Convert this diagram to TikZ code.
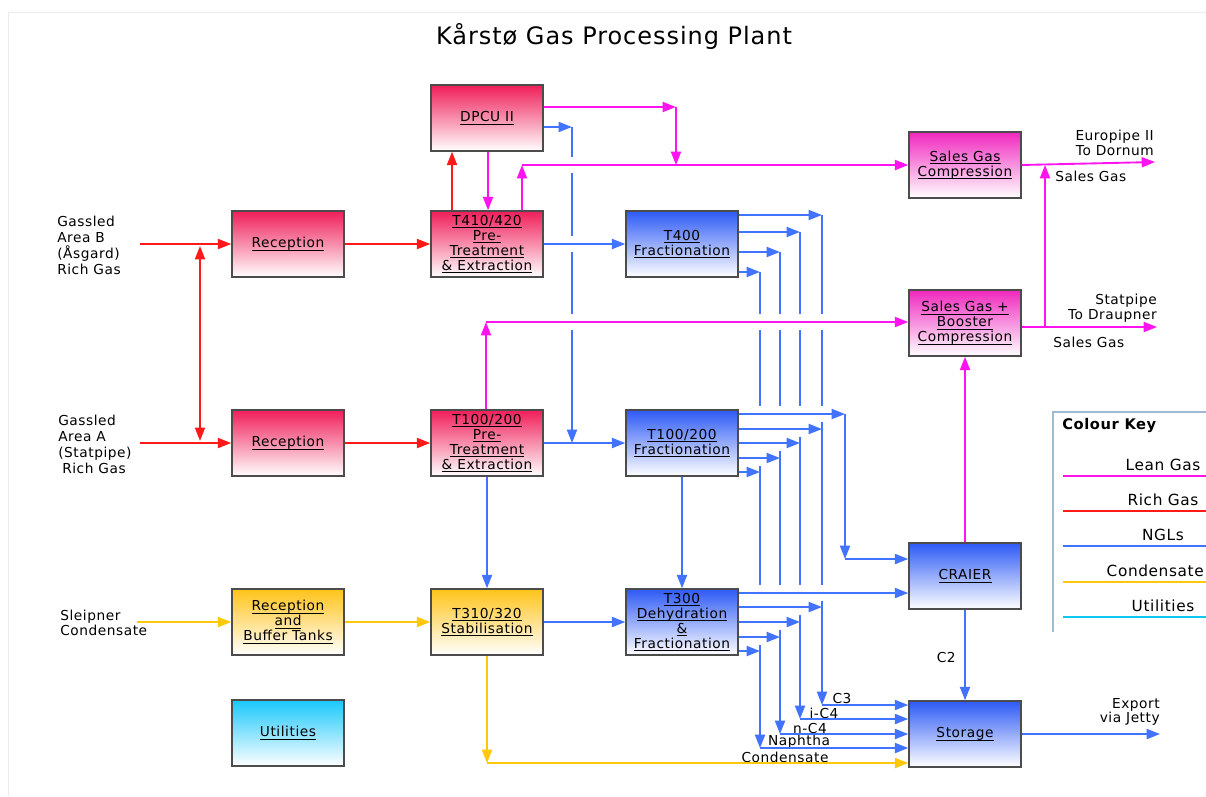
\documentclass[tikz,border=0pt]{standalone}
\usepackage{fontspec}
\setmainfont{DejaVu Sans}[LetterSpace=4]
\usetikzlibrary{arrows.meta}

\definecolor{cLean}{RGB}{255,20,240}
\definecolor{cRich}{RGB}{255,25,25}
\definecolor{cNgl}{RGB}{65,115,255}
\definecolor{cCond}{RGB}{255,200,10}
\definecolor{cUtil}{RGB}{10,200,240}
\definecolor{tLean}{RGB}{240,40,190}
\definecolor{tRich}{RGB}{240,30,90}
\definecolor{tNgl}{RGB}{45,90,245}
\definecolor{tCond}{RGB}{255,195,25}
\definecolor{tUtil}{RGB}{25,200,250}
\definecolor{cKey}{RGB}{160,185,215}

% underline at a fixed depth, like the web page
\newcommand{\und}[1]{\leavevmode\setbox0\hbox{#1}\rlap{\rule[-2.2pt]{\wd0}{0.65pt}}\box0}

\begin{document}
\begin{tikzpicture}[x=0.75pt, y=-0.75pt,
    plant/.style = {draw=black!70, line width=1.1pt, minimum width=84pt, minimum height=49.5pt,
        inner sep=1pt, align=center, font=\fontsize{10.3}{11.25}\selectfont},
    richbox/.style = {plant, top color=tRich, bottom color=white},
    leanbox/.style = {plant, top color=tLean, bottom color=white},
    nglbox/.style = {plant, top color=tNgl, bottom color=white},
    condbox/.style = {plant, top color=tCond, bottom color=white},
    utilbox/.style = {plant, top color=tUtil, bottom color=white},
    txt/.style = {inner sep=0pt, font=\fontsize{10.3}{12}\selectfont},
    txts/.style = {txt, font=\fontsize{10.3}{11}\selectfont},
    keytxt/.style = {inner sep=0pt, font=\fontsize{11.5}{13}\selectfont},
    ar/.style = {-{Triangle[length=10pt, width=7.5pt]}},
    rich/.style = {draw=cRich, line width=1.4pt},
    lean/.style = {draw=cLean, line width=1.4pt},
    ngl/.style = {draw=cNgl, line width=1.4pt},
    cond/.style = {draw=cCond, line width=1.4pt},
    knock/.style = {draw=white, line width=12pt}]

    \useasboundingbox (0,0) rectangle (1206,796);
    \clip (0,0) rectangle (1206,796);
    \fill[white] (0,0) rectangle (1206,796);
    \draw[black!8] (8,796) -- (8,12) -- (1206,12);

    \node[font=\fontsize{18}{20}\selectfont] (title) at (614,36) {Kårstø Gas Processing Plant};

    % process units
    \node[richbox] (dpcu) at (487,118) {\und{DPCU II}};
    \node[richbox] (t410) at (487,244) {\und{T410/420}\\\und{Pre-}\\\und{Treatment}\\\und{\& Extraction}};
    \node[richbox] (recB) at (288,244) {\und{Reception}};
    \node[nglbox] (t400) at (682,244) {\und{T400}\\\und{Fractionation}};
    \node[leanbox] (sgc) at (965,165) {\und{Sales Gas}\\\und{Compression}};
    \node[leanbox] (sgb) at (965,323) {\und{Sales Gas +}\\\und{Booster}\\\und{Compression}};
    \node[richbox] (recA) at (288,443) {\und{Reception}};
    \node[richbox] (t100) at (487,443) {\und{T100/200}\\\und{Pre-}\\\und{Treatment}\\\und{\& Extraction}};
    \node[nglbox] (f100) at (682,443) {\und{T100/200}\\\und{Fractionation}};
    \node[nglbox] (craier) at (965,576) {\und{CRAIER}};
    \node[condbox] (recC) at (288,622) {\und{Reception}\\\und{and}\\\und{Buffer Tanks}};
    \node[condbox] (t310) at (487,622) {\und{T310/320}\\\und{Stabilisation}};
    \node[nglbox] (t300) at (682,622) {\und{T300}\\\und{Dehydration}\\\und{\&}\\\und{Fractionation}};
    \node[utilbox] (util) at (288,733) {\und{Utilities}};
    \node[nglbox] (storage) at (965,734) {\und{Storage}};

    % stream labels
    \node[txt, align=left, anchor=west] (srcB) at (57,245) {Gassled\\Area B\\(Åsgard)\\Rich Gas};
    \node[txt, align=left, anchor=west] (srcA) at (58,444) {Gassled\\Area A\\(Statpipe)\\\hspace*{3pt}Rich Gas};
    \node[txts, align=left, anchor=west] (srcC) at (60,623) {Sleipner\\Condensate};
    \node[txts, align=right, anchor=east] (euro) at (1154,143) {Europipe II\\To Dornum};
    \node[txt, anchor=west] (sg1) at (1055,176) {Sales Gas};
    \node[txts, align=right, anchor=east] (statp) at (1157,308) {Statpipe\\To Draupner};
    \node[txt, anchor=west] (sg2) at (1053,342) {Sales Gas};
    \node[txts, align=right, anchor=east] (expo) at (1160,712) {Export\\via Jetty};
    \node[txt, anchor=east] (c2) at (956,657) {C2};
    \node[txt] (lc3) at (842,698) {C3};
    \node[txt] (lic4) at (824,713) {i-C4};
    \node[txt] (lnc4) at (810,728) {n-C4};
    \node[txt] (lnap) at (799,742) {Naphtha};
    \node[txt] (lcon) at (785,757) {Condensate};

    \coordinate (inB) at (140,244);
    \coordinate (inA) at (140,443);
    \coordinate (inC) at (137,622);
    \coordinate (tB) at (200,246);
    \coordinate (tA) at (200,441);
    \coordinate (dp1) at (676,107);
    \coordinate (dp2) at (676,165);
    \coordinate (dp3) at (572,127);
    \coordinate (dp4) at (572,443);
    \coordinate (lg1) at (522,165);
    \coordinate (lg2) at (486,322);
    \coordinate (outE) at (1155,162);
    \coordinate (outS) at (1157,327);
    \coordinate (tie) at (1045,327);
    \coordinate (outX) at (1160,734);
    \coordinate (cr1) at (845,414);
    \coordinate (cr2) at (845,559);
    \coordinate (cd1) at (487,763);
    \coordinate (b1t) at (822,215);
    \coordinate (b1b) at (822,705);
    \coordinate (b2t) at (800,232);
    \coordinate (b2b) at (800,719);
    \coordinate (b3t) at (780,252);
    \coordinate (b3b) at (780,734);
    \coordinate (b4t) at (760,272);
    \coordinate (b4b) at (760,748);

    % long NGL runs, drawn first so the crossing lines can jump them
    \draw[ngl, ar] (dp3) -- (dp4);
    \draw[ngl, ar] (b1t) -- (b1b);
    \draw[ngl, ar] (b2t) -- (b2b);
    \draw[ngl, ar] (b3t) -- (b3b);
    \draw[ngl, ar] (b4t) -- (b4b);

    \draw[knock] (562,165) -- (582,165);
    \draw[knock] (562,244) -- (582,244);
    \draw[knock] (562,322) -- (835,322);
    \draw[knock] (750,414) -- (835,414);
    \draw[knock] (750,429) -- (812,429);
    \draw[knock] (750,443) -- (791,443);
    \draw[knock] (750,458) -- (771,458);
    \draw[knock] (750,593) -- (835,593);
    \draw[knock] (750,607) -- (812,607);
    \draw[knock] (750,622) -- (791,622);
    \draw[knock] (750,637) -- (771,637);

    % rich gas
    \draw[rich, ar] (inB) -- (recB);
    \draw[rich, ar] (inA) -- (recA);
    \draw[rich, {Triangle[length=10pt, width=7.5pt]}-{Triangle[length=10pt, width=7.5pt]}] (tB) -- (tA);
    \draw[rich, ar] (recB) -- (t410);
    \draw[rich, ar] (recA) -- (t100);
    \draw[rich, ar] (t410.north -| 452,0) -- (dpcu.south -| 452,0);

    % lean gas
    \draw[lean, ar] (dpcu.south -| 488,0) -- (t410.north -| 488,0);
    \draw[lean, ar] (dpcu.east |- dp1) -- (dp1);
    \draw[lean, ar] (dp1) -- (dp2);
    \draw[lean, ar] (t410.north -| lg1) -- (lg1);
    \draw[lean, ar] (lg1) -- (sgc.west);
    \draw[lean, ar] (t100.north -| lg2) -- (lg2);
    \draw[lean, ar] (lg2) -- (sgb.west |- lg2);
    \draw[lean, ar] (sgc.east) -- (outE);
    \draw[lean, ar] (sgb.east |- outS) -- (outS);
    \draw[lean, ar] (tie) -- (1045,165);
    \draw[lean, ar] (craier.north) -- (sgb.south);

    % NGLs
    \draw[ngl, ar] (dpcu.east |- dp3) -- (dp3);
    \draw[ngl, ar] (t410) -- (t400);
    \draw[ngl, ar] (t100) -- (f100);
    \draw[ngl, ar] (t100.south) -- (t310.north);
    \draw[ngl, ar] (f100.south) -- (t300.north);
    \draw[ngl, ar] (t310) -- (t300);
    \draw[ngl, ar] (t400.east |- b1t) -- (b1t);
    \draw[ngl, ar] (t400.east |- b2t) -- (b2t);
    \draw[ngl, ar] (t400.east |- b3t) -- (b3t);
    \draw[ngl, ar] (t400.east |- b4t) -- (b4t);
    \draw[ngl, ar] (f100.east |- cr1) -- (cr1);
    \draw[ngl, ar] (cr1) -- (cr2);
    \draw[ngl, ar] (cr2) -- (craier.west |- cr2);
    \draw[ngl, ar] (f100.east |- 0,429) -- (b1t |- 0,429);
    \draw[ngl, ar] (f100.east |- 0,443) -- (b2t |- 0,443);
    \draw[ngl, ar] (f100.east |- 0,458) -- (b3t |- 0,458);
    \draw[ngl, ar] (f100.east |- 0,472) -- (b4t |- 0,472);
    \draw[ngl, ar] (t300.east |- 0,593) -- (craier.west |- 0,593);
    \draw[ngl, ar] (t300.east |- 0,607) -- (b1t |- 0,607);
    \draw[ngl, ar] (t300.east |- 0,622) -- (b2t |- 0,622);
    \draw[ngl, ar] (t300.east |- 0,637) -- (b3t |- 0,637);
    \draw[ngl, ar] (t300.east |- 0,651) -- (b4t |- 0,651);
    \draw[ngl, ar] (b1b) -- (storage.west |- b1b);
    \draw[ngl, ar] (b2b) -- (storage.west |- b2b);
    \draw[ngl, ar] (b3b) -- (storage.west |- b3b);
    \draw[ngl, ar] (b4b) -- (storage.west |- b4b);
    \draw[ngl, ar] (craier.south) -- (storage.north);
    \draw[ngl, ar] (storage.east) -- (outX);

    % condensate
    \draw[cond, ar] (inC) -- (recC);
    \draw[cond, ar] (recC) -- (t310);
    \draw[cond, ar] (t310.south) -- (cd1);
    \draw[cond, ar] (cd1) -- (storage.west |- cd1);

    % colour key
    \draw[cKey, line width=1pt] (1053,632) -- (1053,412) -- (1206,412);
    \node[keytxt, font=\fontsize{11}{13}\selectfont\bfseries, anchor=west] (keyttl) at (1062,426) {Colour Key};
    \draw[cLean, line width=1.5pt] (1063,476) -- (1206,476);
    \node[keytxt] (klean) at (1163,465) {Lean Gas};
    \draw[cRich, line width=1.5pt] (1063,511) -- (1206,511);
    \node[keytxt] (krich) at (1163,500) {Rich Gas};
    \draw[cNgl, line width=1.5pt] (1063,546) -- (1206,546);
    \node[keytxt] (kngl) at (1163,535) {NGLs};
    \draw[cCond, line width=1.5pt] (1063,582) -- (1206,582);
    \node[keytxt, anchor=east] (kcond) at (1204,571) {Condensate};
    \draw[cUtil, line width=1.5pt] (1063,617) -- (1206,617);
    \node[keytxt] (kutil) at (1163,606) {Utilities};
\end{tikzpicture}
\end{document}
